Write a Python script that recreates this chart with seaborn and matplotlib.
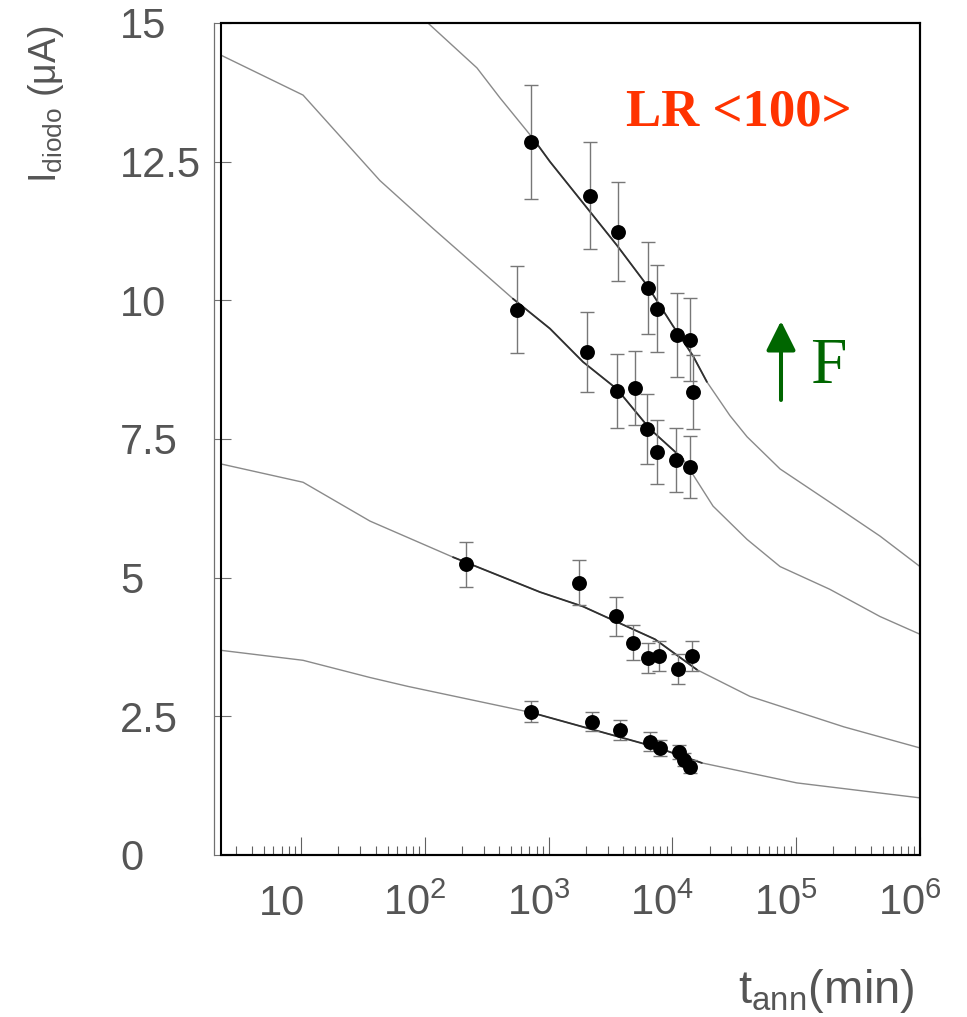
import numpy as np
import pandas as pd
import matplotlib
matplotlib.use("Agg")
import matplotlib.pyplot as plt
import matplotlib.transforms as mtransforms
from matplotlib.patches import Rectangle
from matplotlib.ticker import FixedLocator, LogLocator, NullFormatter
import seaborn as sns

# ---------------- data ----------------
# measured points (annealing time in min, diode current in uA, error)
t1 = [721, 2160, 3640, 6360, 7520, 10900, 13870, 14660]
y1 = [12.85, 11.89, 11.24, 10.23, 9.85, 9.38, 9.29, 8.35]
e1 = [1.03, 0.96, 0.90, 0.83, 0.78, 0.76, 0.75, 0.67]

t2 = [556, 2040, 3575, 4990, 6240, 7520, 10690, 13870]
y2 = [9.83, 9.07, 8.37, 8.42, 7.68, 7.27, 7.12, 6.99]
e2 = [0.78, 0.72, 0.67, 0.66, 0.63, 0.58, 0.58, 0.56]

t3 = [215, 1763, 3500, 4810, 6360, 7800, 11090, 14390]
y3 = [5.24, 4.91, 4.30, 3.83, 3.56, 3.58, 3.36, 3.58]
e3 = [0.41, 0.40, 0.35, 0.31, 0.27, 0.27, 0.27, 0.27]

t4 = [721, 2245, 3780, 6600, 7940, 11300, 12390, 13870]
y4 = [2.58, 2.40, 2.26, 2.04, 1.93, 1.86, 1.72, 1.59]
e4 = [0.19, 0.17, 0.18, 0.17, 0.15, 0.13, 0.12, 0.12]

# model curves
cA_t = [76, 106, 264, 405, 748, 1026, 2158, 3570, 6240, 10100, 14660, 19000,
        29200, 40100, 74100, 187000, 475000, 1e6]
cA_v = [15.3, 15.0, 14.19, 13.65, 12.92, 12.5, 11.6, 10.99, 10.27, 9.54, 9.0, 8.53,
        7.92, 7.54, 6.96, 6.36, 5.75, 5.2]

cB_t = [2.26, 10.4, 43.4, 116, 515, 1026, 1897, 3570, 6590, 12190, 21300, 40100,
        74100, 187000, 475000, 1e6]
cB_v = [14.42, 13.7, 12.16, 11.3, 10.03, 9.49, 8.89, 8.4, 7.68, 7.14, 6.29, 5.69,
        5.2, 4.79, 4.3, 3.98]

cC_t = [2.26, 10.4, 36.1, 169, 853, 1897, 7230, 15800, 42300, 243000, 1e6]
cC_v = [7.05, 6.72, 6.02, 5.37, 4.74, 4.48, 3.89, 3.34, 2.86, 2.31, 1.93]

cD_t = [2.26, 10.4, 36.1, 73, 721, 7230, 17300, 101000, 1e6]
cD_v = [3.69, 3.51, 3.2, 3.04, 2.57, 1.95, 1.66, 1.30, 1.03]

xtick_vals = [10, 1e2, 1e3, 1e4, 1e5, 1e6]
xtick_labels = ["10", "$10^{2}$", "$10^{3}$", "$10^{4}$", "$10^{5}$", "$10^{6}$"]
ytick_vals = [0, 2.5, 5, 7.5, 10, 12.5, 15]
ytick_labels = ["0", "2.5", "5", "7.5", "10", "12.5", "15"]

# ---------------- style ----------------
sns.set_style("white")
plt.rcParams["font.family"] = ["Liberation Sans", "DejaVu Sans"]
plt.rcParams["mathtext.fontset"] = "custom"
plt.rcParams["mathtext.rm"] = "Liberation Sans"
plt.rcParams["mathtext.it"] = "Liberation Sans:italic"
plt.rcParams["mathtext.bf"] = "Liberation Sans:bold"
plt.rcParams["mathtext.default"] = "regular"

W, H = 967, 1017
fig = plt.figure(figsize=(W / 100, H / 100), dpi=100)
ax = fig.add_axes([221 / W, 1 - 855 / H, (920 - 221) / W, (855 - 23) / H])
ax.set_xscale("log")
ax.set_xlim(2.26, 1e6)
ax.set_ylim(0, 15)

curve_col = "#8a8a8a"
dark_col = "#303030"
text_col = "#555555"

curves = [(cA_t, cA_v, t1), (cB_t, cB_v, t2), (cC_t, cC_v, t3), (cD_t, cD_v, t4)]
for ct, cv, td in curves:
    df = pd.DataFrame({"t": ct, "v": cv})
    sns.lineplot(data=df, x="t", y="v", ax=ax, color=curve_col, lw=1.0,
                 estimator=None, sort=False, zorder=2)
    lo, hi = min(td) / 1.3, max(td) * 1.3
    sub = df[(df["t"] >= lo) & (df["t"] <= hi)]
    sns.lineplot(data=sub, x="t", y="v", ax=ax, color=dark_col, lw=1.3,
                 estimator=None, sort=False, zorder=3)

for td, yd, ed in [(t1, y1, e1), (t2, y2, e2), (t3, y3, e3), (t4, y4, e4)]:
    ax.errorbar(td, yd, yerr=ed, fmt="none", ecolor="#777777", elinewidth=1.0,
                capsize=4.7, capthick=1.0, zorder=4)
    sns.scatterplot(x=td, y=yd, ax=ax, color="black", s=115, linewidth=0,
                    zorder=5, legend=False)

ax.set_xlabel("")
ax.set_ylabel("")

# ---------------- axes / ticks ----------------
for side in ["top", "right", "bottom"]:
    ax.spines[side].set_color("black")
    ax.spines[side].set_linewidth(1.5)
ax.spines["left"].set_position(("outward", 5))
ax.spines["left"].set_color("#707070")
ax.spines["left"].set_linewidth(0.9)
ax.add_patch(Rectangle((0, 0), 1, 1, transform=ax.transAxes, fill=False,
                       lw=1.5, ec="black", clip_on=False, zorder=10))

ax.xaxis.set_major_locator(FixedLocator(xtick_vals))
ax.xaxis.set_minor_locator(LogLocator(base=10, subs=np.arange(2, 10), numticks=20))
ax.xaxis.set_minor_formatter(NullFormatter())
ax.set_xticks(xtick_vals)
ax.set_xticklabels(xtick_labels)
ax.set_yticks(ytick_vals)
ax.set_yticklabels(ytick_labels)

ax.tick_params(axis="x", which="major", direction="in", length=13, width=0.8,
               color="#606060", labelsize=30, labelcolor=text_col, pad=43,
               top=False, bottom=True)
ax.tick_params(axis="x", which="minor", direction="in", length=6.5, width=0.8,
               color="#606060", top=False, bottom=True)
ax.tick_params(axis="y", which="major", direction="in", length=12, width=0.8,
               color="#707070", labelsize=30, labelcolor=text_col, pad=67.7,
               left=True, right=False)
ax.tick_params(axis="y", which="minor", left=False, right=False)

xoff = mtransforms.ScaledTranslation(-42 / 100, 0, fig.dpi_scale_trans)
for lab in ax.get_xticklabels():
    lab.set_horizontalalignment("left")
    lab.set_verticalalignment("baseline")
    lab.set_transform(lab.get_transform() + xoff)
for lab in ax.get_yticklabels():
    lab.set_horizontalalignment("left")

# axis titles
fig.text(915 / W, 1 - 1003 / H, "t$_{\\mathrm{ann}}$(min)", ha="right",
         va="baseline", fontsize=34, color=text_col)
fig.text(46 / W, 1 - 25 / H, "I$_{\\mathrm{diodo}}$ (μA)", ha="center", va="top",
         rotation=90, fontsize=27, color=text_col)

# annotations
fig.text(739 / W, 1 - 126 / H, "LR <100>", ha="center", va="baseline",
         fontsize=38, fontweight="bold", color="#ff3300",
         family=["Liberation Serif", "DejaVu Serif"])
fig.text(810 / W, 1 - 383 / H, "F", ha="left", va="baseline", fontsize=47,
         color="#006600", family=["Liberation Serif", "DejaVu Serif"])
ax.annotate("", xy=(781, H - 321), xytext=(781, H - 400),
            xycoords="figure pixels", textcoords="figure pixels",
            arrowprops=dict(arrowstyle="-|>,head_length=0.4,head_width=0.2",
                            color="#006600", lw=2.9, mutation_scale=45,
                            shrinkA=0, shrinkB=0))

fig.savefig("out.png", dpi=100)
